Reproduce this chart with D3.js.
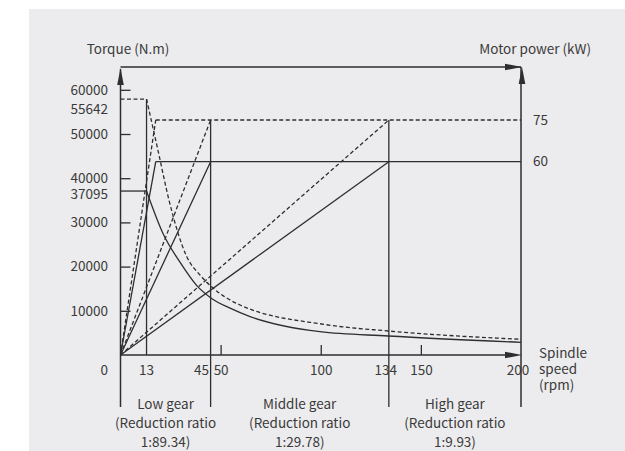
<!DOCTYPE html>
<html>
<head>
<meta charset="utf-8">
<script src="https://cdn.jsdelivr.net/npm/d3@7"></script>
<style>
  body { margin: 0; background: #fff; }
  svg text { font-family: "Noto Sans CJK SC", "Noto Sans", sans-serif; font-size: 13.5px; fill: #3a3a3a; }
</style>
</head>
<body>
<div class="chart"></div>
<script>
// Spindle speed (rpm)
const speedTicks = [50, 100, 150];
const speedMarks = [13, 45, 134, 200];

// Torque (N.m)
const torqueTicks = [10000, 20000, 30000, 40000, 50000, 60000];
const torqueMarks = [55642, 37095];

// Motor power (kW): labels and the level each line is drawn at
const powerLabels = ["75", "60"];
const powerLevels = [75, 61.7];

// Gears
const gearNames = ["Low gear", "Middle gear", "High gear"];
const gearRatios = ["1:89.34", "1:29.78", "1:9.93"];
const gearBounds = [0, 45, 134, 200];
const gearBaseSpeed = [17.6, 45, 134];

// Torque curves, [rpm, N.m]
const torqueDashed = [[0, 57900], [13, 57900], [18.8, 46140], [24.2, 35060], [33.1, 22240],
  [39.7, 18100], [46.4, 15080], [59.7, 11310], [102.1, 6900], [133.7, 5430], [200, 3550]];
const torqueSolid = [[0, 37095], [13, 37095], [21.4, 27300], [29.7, 21000], [38.1, 15700],
  [45.5, 12800], [54.7, 10600], [64.7, 8700], [99.6, 5270], [133.7, 4300], [200, 2870]];

const width = 625, height = 451;
const yTop = 67, yLow = 407;
const ink = "#2e2e2e";
const dash = "4,2.5";

const svg = d3.select(".chart")
    .append("svg")
    .attr("width", width)
    .attr("height", height);

// grey panel
svg.append("rect")
    .attr("x", 29).attr("y", 9)
    .attr("width", width - 29).attr("height", height - 9)
    .attr("fill", "#ececee");

// scales
const x = d3.scaleLinear().domain([0, 200]).range([120.5, 521]);
const y = d3.scaleLinear().domain([0, 60000]).range([355, 89.8]);
const p = d3.scaleLinear().domain([0, 75]).range([355, 120]);

const yBase = y(0);

function seg(x1, y1, x2, y2, dashed, w) {
    svg.append("line")
        .attr("x1", x1).attr("y1", y1)
        .attr("x2", x2).attr("y2", y2)
        .attr("stroke", ink)
        .attr("stroke-width", w || 1.3)
        .attr("stroke-dasharray", dashed ? dash : null);
}

function arrow(tx, ty, dir) {
    const L = 17, h = 3.3;
    let pts;
    if (dir === "up") pts = [[tx, ty], [tx - h, ty + L], [tx + h, ty + L]];
    else pts = [[tx, ty], [tx - L, ty - h], [tx - L, ty + h]];
    svg.append("path")
        .attr("d", "M" + pts.join("L") + "Z")
        .attr("fill", ink);
}

// frame: left axis, right axis, top line, speed axis
seg(x(0), yLow, x(0), yTop + 2, false, 1.5);
seg(x(200), yLow, x(200), yTop, false, 1.5);
seg(x(0), yTop, x(200), yTop, false, 1.5);
seg(x(0), yBase, x(200) - 4, yBase, false, 1.5);
arrow(x(0), yTop + 1, "up");
arrow(x(200) + 1, yTop, "up");
arrow(x(200) + 1, yTop, "right");
arrow(x(200) + 1, yBase, "right");

// torque axis ticks (inward)
const yAxis = svg.append("g")
    .attr("transform", `translate(${x(0)},0)`)
    .call(d3.axisLeft(y).tickValues(torqueTicks).tickSizeInner(-10).tickSizeOuter(0)
        .tickPadding(12.5).tickFormat(d3.format("d")));
yAxis.select(".domain").remove();
yAxis.selectAll("line").attr("stroke", ink).attr("stroke-width", 1.3);
yAxis.selectAll("text").attr("fill", null);
yAxis.attr("font-size", null).attr("font-family", null);

// extra torque values, 37095 sits a little lower so it clears 40000
svg.selectAll(".tmark")
    .data(torqueMarks)
    .enter()
    .append("text")
    .attr("x", x(0) - 12.5)
    .attr("y", (d, i) => y(d) + (i === 1 ? 3 : 0))
    .attr("dy", "0.35em")
    .attr("text-anchor", "end")
    .text(d => d);

// speed axis ticks (inward)
const xAxis = svg.append("g")
    .attr("transform", `translate(0,${yBase})`)
    .call(d3.axisBottom(x).tickValues(speedTicks).tickSizeInner(-10).tickSizeOuter(0).tickPadding(10));
xAxis.select(".domain").remove();
xAxis.selectAll("line").attr("stroke", ink).attr("stroke-width", 1.3);
xAxis.selectAll("text").attr("fill", null);
xAxis.attr("font-size", null).attr("font-family", null);

// speed labels for the gear limits
const markAnchor = { 13: "middle", 45: "end", 134: "middle", 200: "middle" };
const markShift = { 13: 0, 45: -1.5, 134: -3, 200: -3 };
svg.selectAll(".smark")
    .data(speedMarks)
    .enter()
    .append("text")
    .attr("x", d => x(d) + markShift[d])
    .attr("y", yBase + 20)
    .attr("text-anchor", d => markAnchor[d])
    .text(d => d);

svg.append("text")
    .attr("x", x(0) - 12.5)
    .attr("y", yBase + 20)
    .attr("text-anchor", "end")
    .text("0");

// vertical gear lines
seg(x(13), y(torqueDashed[0][1]), x(13), yBase);
[45, 134].forEach(s => seg(x(s), p(powerLevels[0]), x(s), yLow));

// rated power levels
powerLevels.forEach((lv, i) => {
    seg(x(gearBaseSpeed[0]), p(lv), x(200), p(lv), i === 0);
    svg.append("text")
        .attr("x", x(200) + 12)
        .attr("y", p(lv))
        .attr("dy", "0.35em")
        .text(powerLabels[i]);
});

// power rising lines per gear
gearBaseSpeed.forEach(s => {
    powerLevels.forEach((lv, i) => seg(x(0), p(0), x(s), p(lv), i === 0));
});

// torque curves: flat part then falling part
const line = d3.line()
    .x(d => x(d[0]))
    .y(d => y(d[1]));
const curve = d3.line()
    .x(d => x(d[0]))
    .y(d => y(d[1]))
    .curve(d3.curveMonotoneX);

[[torqueDashed, true], [torqueSolid, false]].forEach(([data, dashed]) => {
    svg.append("path")
        .attr("d", line(data.slice(0, 2)))
        .attr("fill", "none")
        .attr("stroke", ink)
        .attr("stroke-width", 1.3)
        .attr("stroke-dasharray", dashed ? dash : null);
    svg.append("path")
        .attr("d", curve(data.slice(1)))
        .attr("fill", "none")
        .attr("stroke", ink)
        .attr("stroke-width", 1.3)
        .attr("stroke-dasharray", dashed ? dash : null);
});

// axis titles
svg.append("text")
    .attr("x", 128).attr("y", 54)
    .attr("text-anchor", "middle")
    .text("Torque (N.m)");

svg.append("text")
    .attr("x", 591).attr("y", 54)
    .attr("text-anchor", "end")
    .text("Motor power (kW)");

svg.append("text")
    .attr("x", x(200) + 18)
    .attr("y", yBase + 3)
    .selectAll("tspan")
    .data(["Spindle", "speed", "(rpm)"])
    .enter()
    .append("tspan")
    .attr("x", x(200) + 18)
    .attr("dy", (d, i) => i === 0 ? 0 : 16)
    .text(d => d);

// gear captions
gearNames.forEach((name, i) => {
    const cx = (x(gearBounds[i]) + x(gearBounds[i + 1])) / 2;
    const lines = [name, "(Reduction ratio", gearRatios[i] + ")"];
    svg.append("text")
        .attr("x", cx)
        .attr("y", 409)
        .attr("text-anchor", "middle")
        .selectAll("tspan")
        .data(lines)
        .enter()
        .append("tspan")
        .attr("x", cx)
        .attr("dy", (d, j) => j === 0 ? 0 : 19)
        .text(d => d);
});
</script>
</body>
</html>
